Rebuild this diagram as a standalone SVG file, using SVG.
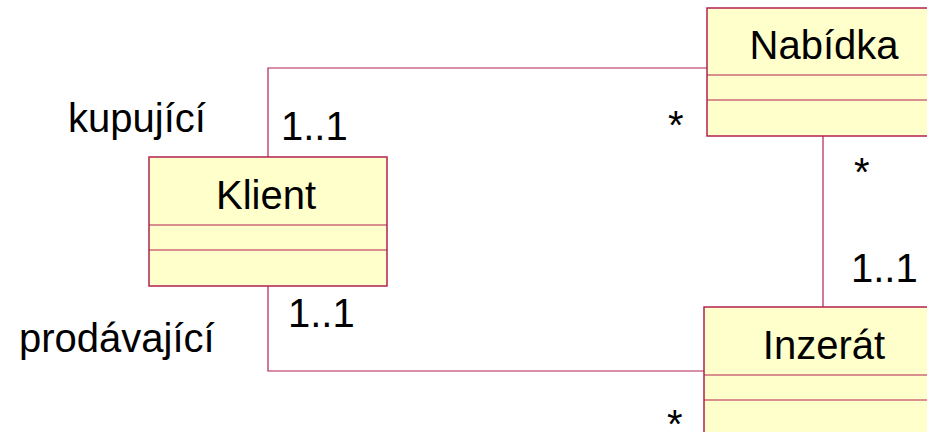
<svg xmlns="http://www.w3.org/2000/svg" width="927" height="432" viewBox="0 0 927 432">
<style>
.box{fill:#FFFFCC;stroke:#B3204F;stroke-width:1.5}
.ln{fill:none;stroke:#B3204F;stroke-width:1.2}
text{font-family:"Liberation Sans",Arial,sans-serif;font-size:40px;fill:#000}
.c{text-anchor:middle}
</style>
<rect width="927" height="432" fill="#fff"/>
<g id="connectors">
<polyline class="ln" points="268,157 268,68 707,68"/>
<polyline class="ln" points="268,286 268,371 704,371"/>
<line class="ln" x1="823" y1="136" x2="823" y2="307"/>
</g>
<g id="klient">
<rect class="box" x="149" y="157" width="238" height="129"/>
<line class="ln" x1="149" y1="225" x2="387" y2="225"/>
<line class="ln" x1="149" y1="250" x2="387" y2="250"/>
<text class="c" x="266" y="209">Klient</text>
</g>
<g id="nabidka">
<rect class="box" x="707" y="8" width="240" height="128"/>
<line class="ln" x1="707" y1="75" x2="927" y2="75"/>
<line class="ln" x1="707" y1="100" x2="927" y2="100"/>
<text class="c" x="824" y="59">Nabídka</text>
</g>
<g id="inzerat">
<rect class="box" x="704" y="307" width="240" height="140"/>
<line class="ln" x1="704" y1="375" x2="927" y2="375"/>
<line class="ln" x1="704" y1="400" x2="927" y2="400"/>
<text class="c" x="824" y="359">Inzerát</text>
</g>
<g id="labels">
<text x="68" y="132">kupující</text>
<text x="281" y="140">1..1</text>
<text x="668" y="139">*</text>
<text x="854" y="186">*</text>
<text x="851" y="282">1..1</text>
<text x="288" y="327">1..1</text>
<text x="19" y="352">prodávající</text>
<text x="667" y="438">*</text>
</g>
</svg>
